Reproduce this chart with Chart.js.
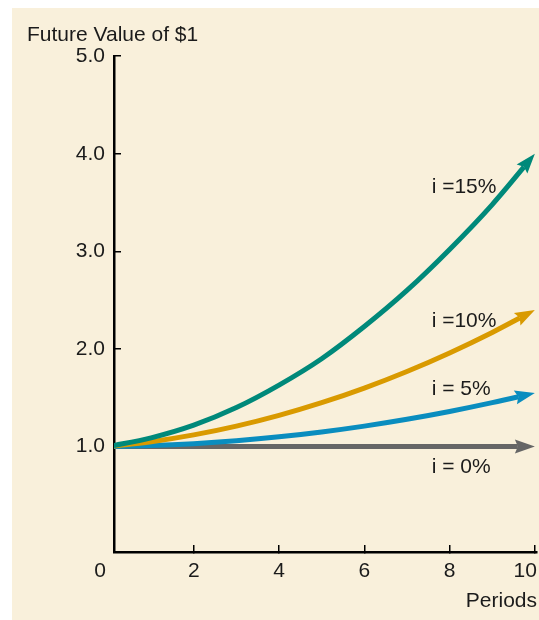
<!DOCTYPE html>
<html>
<head>
<meta charset="utf-8">
<title>Future Value of $1</title>
<script src="https://cdn.jsdelivr.net/npm/chart.js@4.4.1/dist/chart.umd.min.js"></script>
<style>
  html, body { margin: 0; padding: 0; background: #ffffff; }
  canvas { display: block; }
</style>
</head>
<body>
<canvas id="fv" width="539" height="620"></canvas>
<script>
// Growth of one dollar over ten periods at four interest rates
const periods = [0, 1, 2, 3, 4, 5, 6, 7, 8, 9, 10];
const rate15 = [1.00, 1.09, 1.22, 1.40, 1.63, 1.90, 2.23, 2.60, 3.02, 3.48, 4.00];
const rate10 = [1.00, 1.05, 1.12, 1.21, 1.32, 1.45, 1.60, 1.77, 1.96, 2.17, 2.40];
const rate5  = [1.00, 1.01, 1.03, 1.06, 1.10, 1.15, 1.21, 1.28, 1.36, 1.45, 1.55];
const rate0  = [1.00, 1.00, 1.00, 1.00, 1.00, 1.00, 1.00, 1.00, 1.00, 1.00, 1.00];
const seriesNames = ['i =15%', 'i =10%', 'i = 5%', 'i = 0%'];
const xTickValues = [2, 4, 6, 8, 10];
const yTickValues = [1, 2, 3, 4, 5];
const originLabel = '0';

const FONT = '"Liberation Sans", Arial, Helvetica, sans-serif';
const INK = '#1b1b1b';
Chart.defaults.font.family = FONT;
Chart.defaults.font.size = 21;
Chart.defaults.color = INK;

const seriesColors = ['#00897a', '#d99a00', '#0a8dbf', '#666666'];
const seriesValues = [rate15, rate10, rate5, rate0];
// where each rate's caption sits, in axis units
const captionSpots = [
  { x: 7.58, y: 3.66 },
  { x: 7.58, y: 2.28 },
  { x: 7.58, y: 1.59 },
  { x: 7.58, y: 0.79 }
];

// arrowhead geometry
const ARROW_LEN = 20, ARROW_HALF = 7, ARROW_NOTCH = 3;

function arrowAt(chart, index) {
  const pts = chart.getDatasetMeta(index).data;
  const p = pts[pts.length - 1];
  const prev = pts[pts.length - 2];
  const useCp = p.cp1x !== undefined && Math.abs(p.cp1x - p.x) > 0.01;
  const bx = useCp ? p.cp1x : prev.x;
  const by = useCp ? p.cp1y : prev.y;
  let ux = p.x - bx, uy = p.y - by;
  const len = Math.hypot(ux, uy) || 1;
  ux /= len; uy /= len;
  return { x: p.x, y: p.y, ux, uy };
}

const arrowPlugin = {
  id: 'arrowHeads',
  beforeDatasetDraw(chart, args) {
    // keep the stroke from running past the notch of its arrowhead
    const a = arrowAt(chart, args.index);
    const nx = a.x - a.ux * (ARROW_LEN - ARROW_NOTCH);
    const ny = a.y - a.uy * (ARROW_LEN - ARROW_NOTCH);
    const px = -a.uy, py = a.ux, far = 3000;
    const ctx = chart.ctx;
    ctx.save();
    ctx.beginPath();
    ctx.moveTo(nx + px * far, ny + py * far);
    ctx.lineTo(nx + px * far - a.ux * far, ny + py * far - a.uy * far);
    ctx.lineTo(nx - px * far - a.ux * far, ny - py * far - a.uy * far);
    ctx.lineTo(nx - px * far, ny - py * far);
    ctx.closePath();
    ctx.clip();
  },
  afterDatasetDraw(chart, args) {
    const ctx = chart.ctx;
    ctx.restore();
    const a = arrowAt(chart, args.index);
    const px = -a.uy, py = a.ux;
    const bx = a.x - a.ux * ARROW_LEN, by = a.y - a.uy * ARROW_LEN;
    const nx = a.x - a.ux * (ARROW_LEN - ARROW_NOTCH), ny = a.y - a.uy * (ARROW_LEN - ARROW_NOTCH);
    ctx.save();
    ctx.fillStyle = chart.data.datasets[args.index].borderColor;
    ctx.beginPath();
    ctx.moveTo(a.x, a.y);
    ctx.lineTo(bx + px * ARROW_HALF, by + py * ARROW_HALF);
    ctx.lineTo(nx, ny);
    ctx.lineTo(bx - px * ARROW_HALF, by - py * ARROW_HALF);
    ctx.closePath();
    ctx.fill();
    ctx.restore();
  }
};

const framePlugin = {
  id: 'frame',
  beforeDraw(chart) {
    const ctx = chart.ctx;
    ctx.save();
    ctx.fillStyle = '#f9f0db';
    ctx.fillRect(12, 8, chart.width - 12, chart.height - 8);
    ctx.restore();
    // pull the last period label back inside the panel
    const xs = chart.scales.x;
    const items = xs.getLabelItems();
    if (items.length) {
      const last = items[items.length - 1];
      last.options.textAlign = 'right';
      last.options.translation[0] = xs.getPixelForValue(xTickValues[xTickValues.length - 1]) + 2;
    }
  },
  afterDatasetsDraw(chart) {
    const ctx = chart.ctx;
    const xs = chart.scales.x, ys = chart.scales.y;
    ctx.save();
    ctx.fillStyle = INK;
    ctx.font = '21px ' + FONT;
    ctx.textBaseline = 'middle';
    // shared origin label under the corner of the axes
    const items = xs.getLabelItems();
    if (items.length) {
      const first = items[0];
      ctx.textAlign = 'center';
      ctx.fillText(originLabel, chart.chartArea.left - 14, first.options.translation[1] + first.textOffset);
    }
    ctx.textAlign = 'left';
    seriesNames.forEach((name, i) => {
      const s = captionSpots[i];
      ctx.fillText(name, xs.getPixelForValue(s.x), ys.getPixelForValue(s.y));
    });
    ctx.restore();
  }
};

const datasets = seriesValues.map((vals, i) => ({
  label: seriesNames[i],
  data: periods.map((p, k) => ({ x: p, y: vals[k] })),
  borderColor: seriesColors[i],
  backgroundColor: seriesColors[i],
  borderWidth: 5,
  borderCapStyle: 'butt',
  pointRadius: 0,
  pointHoverRadius: 0,
  fill: false,
  cubicInterpolationMode: 'monotone',
  clip: { left: 0, right: 10, top: 10, bottom: 10 }
}));

new Chart(document.getElementById('fv'), {
  type: 'line',
  data: { datasets },
  plugins: [framePlugin, arrowPlugin],
  options: {
    responsive: false,
    animation: false,
    events: [],
    layout: { padding: { top: 8, left: 27, right: 2, bottom: 0 } },
    plugins: {
      legend: { display: false },
      tooltip: { enabled: false },
      title: {
        display: true,
        text: 'Future Value of $1',
        align: 'start',
        color: INK,
        font: { size: 21, weight: 'normal' },
        padding: { top: 15, bottom: 8 }
      }
    },
    scales: {
      x: {
        type: 'linear',
        position: 'bottom',
        min: 0.13,
        max: 10.05,
        afterBuildTicks: s => { s.ticks = xTickValues.map(v => ({ value: v })); },
        afterFit: s => { s.height = 68; s.paddingLeft = 0; s.paddingRight = 0; },
        ticks: {
          autoSkip: false,
          maxRotation: 0,
          padding: 14,
          color: INK,
          callback: v => String(v)
        },
        grid: { drawOnChartArea: false, drawTicks: true, tickLength: -7, color: '#000', lineWidth: 1.5 },
        border: { display: true, color: '#000', width: 2.5 },
        title: {
          display: true,
          text: 'Periods',
          align: 'end',
          color: INK,
          font: { size: 21 },
          padding: { top: 0, bottom: 6 }
        }
      },
      y: {
        type: 'linear',
        position: 'left',
        min: -0.08,
        max: 5,
        afterBuildTicks: s => { s.ticks = yTickValues.map(v => ({ value: v })); },
        afterFit: s => { s.width = 87; },
        ticks: {
          padding: 16,
          color: INK,
          callback: v => Number(v).toFixed(1)
        },
        grid: { drawOnChartArea: false, drawTicks: true, tickLength: -7, color: '#000', lineWidth: 1.5 },
        border: { display: true, color: '#000', width: 2.5 }
      }
    }
  }
});
</script>
</body>
</html>
